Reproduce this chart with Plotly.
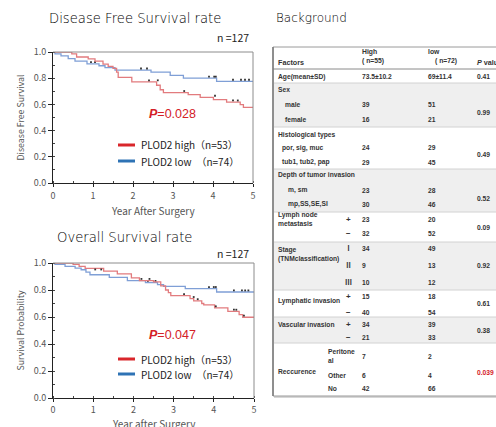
import plotly.graph_objects as go

W, H = 496, 427

# ---------------- Kaplan-Meier data ----------------
dfs_high_t = [0, 0.47, 0.59, 0.88, 1.05, 1.25, 1.38, 1.5, 1.59, 1.63, 1.97, 2.59, 2.68, 2.76, 3.38, 3.68, 4.01, 4.34, 4.68, 4.76, 5.0]
dfs_high_s = [1.0, 0.985, 0.962, 0.947, 0.93, 0.908, 0.89, 0.875, 0.847, 0.807, 0.772, 0.746, 0.712, 0.69, 0.674, 0.654, 0.636, 0.618, 0.598, 0.578, 0.578]
dfs_low_t = [0, 0.05, 0.2, 0.38, 0.55, 0.85, 1.15, 1.3, 1.55, 2.45, 2.93, 3.26, 4.09, 5.0]
dfs_low_s = [1.0, 0.985, 0.97, 0.95, 0.93, 0.91, 0.895, 0.88, 0.862, 0.847, 0.822, 0.80, 0.776, 0.776]
dfs_high_cens_t = [2.4, 2.62, 3.28, 4.05, 4.5, 4.62]
dfs_high_cens_s = [0.772, 0.772, 0.69, 0.654, 0.618, 0.618]
dfs_low_cens_t = [0.95, 1.05, 2.2, 2.35, 3.9, 4.03, 4.07, 4.5, 4.7, 4.8, 4.9]
dfs_low_cens_s = [0.91, 0.91, 0.862, 0.862, 0.80, 0.80, 0.80, 0.776, 0.776, 0.776, 0.776]

os_high_t = [0, 0.5, 0.65, 0.8, 1.26, 1.6, 1.95, 2.15, 2.5, 2.68, 2.8, 2.87, 2.93, 3.41, 3.5, 3.7, 3.75, 4.02, 4.35, 4.63, 4.72, 5.0]
os_high_s = [1.0, 0.99, 0.975, 0.96, 0.94, 0.92, 0.89, 0.87, 0.86, 0.83, 0.80, 0.78, 0.758, 0.736, 0.72, 0.70, 0.69, 0.667, 0.642, 0.617, 0.598, 0.598]
os_low_t = [0, 0.05, 0.3, 0.55, 0.7, 0.82, 0.92, 1.4, 1.85, 2.3, 2.6, 2.75, 3.29, 4.07, 5.0]
os_low_s = [1.0, 0.99, 0.975, 0.962, 0.95, 0.933, 0.913, 0.894, 0.869, 0.855, 0.84, 0.827, 0.81, 0.785, 0.785]
os_high_cens_t = [1.05, 1.2, 2.2, 2.4, 3.26, 3.5, 3.6, 4.05, 4.5, 4.56, 4.75]
os_high_cens_s = [0.94, 0.94, 0.87, 0.87, 0.758, 0.736, 0.72, 0.667, 0.642, 0.642, 0.598]
os_low_cens_t = [2.36, 2.55, 3.88, 4.0, 4.05, 4.5, 4.7, 4.78, 4.86]
os_low_cens_s = [0.855, 0.855, 0.81, 0.81, 0.81, 0.785, 0.785, 0.785, 0.785]

legend_labels = ["PLOD2 high（n=53）", "PLOD2 low　（n=74）"]
p_values_km = ["0.028", "0.047"]
titles_km = ["Disease Free Survival rate", "Overall Survival rate"]
ytitles_km = ["Disease Free Survival", "Survival Probability"]
xtitles_km = ["Year After Surgery", "Year after Surgery"]
n_total = "n =127"
table_title = "Background"

x_ticks = [0, 1, 2, 3, 4, 5]
y_ticks = [0.0, 0.2, 0.4, 0.6, 0.8, 1.0]
y_tick_labels = ["0.0", "0.2", "0.4", "0.6", "0.8", "1.0"]

# ---------------- Table data ----------------
tbl_header = ["Factors", "High<br>( n=55)", "low<br>　( n=72)", "<i>P</i> value"]
grp_names = ["Age(mean±SD)", "Sex", "Histological types", "Depth of tumor invasion",
             "Lymph node<br>metastasis", "Stage<br>(TNMclassification)",
             "Lymphatic invasion", "Vascular invasion", "Reccurence"]
grp_subs = [[""], ["male", "female"], ["por, sig, muc", "tub1, tub2, pap"], ["m, sm", "mp,SS,SE,SI"],
            ["+", "−"], ["Ⅰ", "Ⅱ", "Ⅲ"], ["+", "−"], ["+", "−"], ["Peritone<br>al", "Other", "No"]]
grp_high = [["73.5±10.2"], ["39", "16"], ["24", "29"], ["23", "30"], ["23", "32"],
            ["34", "9", "10"], ["15", "40"], ["34", "21"], ["7", "6", "42"]]
grp_low = [["69±11.4"], ["51", "21"], ["29", "45"], ["28", "46"], ["20", "52"],
           ["49", "13", "12"], ["18", "54"], ["39", "33"], ["2", "4", "66"]]
grp_p = ["0.41", "0.99", "0.49", "0.52", "0.09", "0.92", "0.61", "0.38", "0.039"]

# ---------------- layout constants (pixels) ----------------
RED_C = "#e27b7e"
BLUE_C = "#7f9fd6"
RED_L = "#d9262b"
BLUE_L = "#2e73b5"
CENS = "#333333"
TITLE_FONT = dict(family="DejaVu Sans", size=13.2, color="#000", weight=200)

def px(x):
    return x / W

def py(y):
    return 1 - y / H

fig = go.Figure()

panels = [
    dict(xa="x", ya="y",
         hi=(dfs_high_t, dfs_high_s, dfs_high_cens_t, dfs_high_cens_s),
         lo=(dfs_low_t, dfs_low_s, dfs_low_cens_t, dfs_low_cens_s),
         title_y=18, title_x=135, n_y=38, p_y=114, leg_y=(145, 161), xt_y=210),
    dict(xa="x2", ya="y2",
         hi=(os_high_t, os_high_s, os_high_cens_t, os_high_cens_s),
         lo=(os_low_t, os_low_s, os_low_cens_t, os_low_cens_s),
         title_y=238, title_x=124, n_y=253, p_y=335, leg_y=(359, 374), xt_y=423),
]

shapes = []
annotations = []
XT = dict(family="Noto Sans CJK JP", size=10, color="#555")
YT = dict(family="Noto Sans CJK JP", size=8.8, color="#555")

for i, pn in enumerate(panels):
    for (t, s, ct, cs), col in ((pn["lo"], BLUE_C), (pn["hi"], RED_C)):
        fig.add_trace(go.Scatter(x=t, y=s, mode="lines", line=dict(color=col, width=1.3, shape="hv"),
                                 xaxis=pn["xa"], yaxis=pn["ya"], showlegend=False, hoverinfo="skip"))
        fig.add_trace(go.Scatter(x=ct, y=[v + 0.012 for v in cs], mode="markers",
                                 marker=dict(color=CENS, size=1.8, symbol="square"),
                                 xaxis=pn["xa"], yaxis=pn["ya"], showlegend=False, hoverinfo="skip"))
    xd = "x domain" if pn["xa"] == "x" else "x2 domain"
    yd = "y domain" if pn["ya"] == "y" else "y2 domain"
    shapes.append(dict(type="line", xref=xd, yref=yd, x0=0, x1=1, y0=1, y1=1, line=dict(color="#8c8c8c", width=1)))
    shapes.append(dict(type="line", xref=xd, yref=yd, x0=1, x1=1, y0=0, y1=1, line=dict(color="#8c8c8c", width=1)))
    for ly, lc in zip(pn["leg_y"], (RED_L, BLUE_L)):
        shapes.append(dict(type="line", xref="paper", yref="paper", x0=px(118), x1=px(135), y0=py(ly), y1=py(ly),
                           line=dict(color=lc, width=3)))
    for ly, lab in zip(pn["leg_y"], legend_labels):
        annotations.append(dict(xref="paper", yref="paper", x=px(139), y=py(ly), text=lab, showarrow=False,
                                xanchor="left", yanchor="middle",
                                font=dict(family="Noto Sans CJK JP", size=10, color="#222")))
    annotations.append(dict(xref="paper", yref="paper", x=px(147), y=py(pn["p_y"]),
                            text="<b><i>P</i></b>=" + p_values_km[i], showarrow=False,
                            xanchor="left", yanchor="middle",
                            font=dict(family="Liberation Sans", size=12.5, color="#d42027")))
    annotations.append(dict(xref="paper", yref="paper", x=px(pn["title_x"]), y=py(pn["title_y"]),
                            text=titles_km[i], showarrow=False, xanchor="center", yanchor="middle",
                            font=TITLE_FONT))
    annotations.append(dict(xref="paper", yref="paper", x=px(251), y=py(pn["n_y"]),
                            text=n_total, showarrow=False, xanchor="right", yanchor="middle",
                            font=dict(family="Noto Sans CJK JP", size=10.5, color="#222")))
    annotations.append(dict(xref=xd, yref="paper", x=0.5, y=py(pn["xt_y"]),
                            text=xtitles_km[i], showarrow=False, xanchor="center", yanchor="middle", font=XT))

TICKF = dict(family="Noto Sans CJK JP", size=9, color="#555")
axis_common = dict(range=[0, 5], tickvals=x_ticks, showgrid=False, zeroline=False, showline=True, automargin=False,
                   linecolor="#222", linewidth=1, ticks="outside", ticklen=3, tickcolor="#222", tickfont=TICKF,
                   minor=dict(dtick=0.5, ticks="inside", ticklen=2, tickcolor="#444"))
yaxis_common = dict(range=[0, 1.0], tickvals=y_ticks, ticktext=y_tick_labels, showgrid=False, zeroline=False,
                    showline=True, automargin=False, linecolor="#222", linewidth=1, ticks="outside", ticklen=4,
                    tickcolor="#222", tickfont=TICKF,
                    minor=dict(dtick=0.1, ticks="inside", ticklen=2, tickcolor="#444"))

fig.update_layout(
    xaxis=dict(domain=[px(53), px(253)], anchor="y", ticklabelstandoff=1, **axis_common),
    yaxis=dict(domain=[py(183), py(52)], anchor="x", title=dict(text=ytitles_km[0], font=YT, standoff=7), **yaxis_common),
    xaxis2=dict(domain=[px(53), px(254)], anchor="y2", ticklabelstandoff=0, **axis_common),
    yaxis2=dict(domain=[py(398), py(263)], anchor="x2", title=dict(text=ytitles_km[1], font=YT, standoff=7), **yaxis_common),
)

# ---------------- Table drawing ----------------
T_LEFT, T_RIGHT, T_TOP, T_BOT = 273, 502, 47, 396
HEAD_BOT = 69
grp_bounds = [(69, 83), (83, 127), (127, 169), (169, 212), (212, 242), (242, 290), (290, 317), (317, 343), (343, 396)]
grp_label_y = [77, 89, 135, 175, 219, 254, 301, 324, 371]
grp_row_y = [[77], [104, 120], [148, 162], [190, 204], [219, 233], [248, 265, 282], [296, 312], [324, 337], [356, 375, 388]]
grp_p_y = [77, 112, 155, 198, 227, 265, 303, 330, 372]
grp_shaded = [False, True, False, True, False, True, False, True, False]
grp_titled = [False, True, True, True, False, False, False, False, False]
sub_indent = [0, 284, 281, 287, 0, 0, 0, 0, 0]

COL_LABEL, COL_SYM, COL_REC, COL_HIGH, COL_LOW, COL_P = 277, 348, 327, 361, 427, 476
TF_FAM, TF_SIZE = "Liberation Sans", 6.7

shapes.append(dict(type="rect", xref="paper", yref="paper", x0=px(T_LEFT + 1), x1=px(T_RIGHT + 1), y0=py(T_BOT + 2), y1=py(T_TOP + 1),
                   line=dict(width=0), fillcolor="#d6d6d6", layer="below"))
shapes.append(dict(type="rect", xref="paper", yref="paper", x0=px(T_LEFT), x1=px(T_RIGHT), y0=py(T_BOT), y1=py(T_TOP),
                   line=dict(color="#9a9a9a", width=1), fillcolor="white", layer="below"))
for k, (y0, y1) in enumerate(grp_bounds):
    if grp_shaded[k]:
        shapes.append(dict(type="rect", xref="paper", yref="paper", x0=px(T_LEFT + 1), x1=px(T_RIGHT), y0=py(y1), y1=py(y0),
                           line=dict(width=0), fillcolor="#efefef", layer="below"))
    if k > 0:
        shapes.append(dict(type="line", xref="paper", yref="paper", x0=px(T_LEFT), x1=px(T_RIGHT), y0=py(y0), y1=py(y0),
                           line=dict(color="#d2d2d2", width=1)))
shapes.append(dict(type="line", xref="paper", yref="paper", x0=px(T_LEFT), x1=px(T_RIGHT), y0=py(HEAD_BOT), y1=py(HEAD_BOT),
                   line=dict(color="#8a8a8a", width=1)))
shapes.append(dict(type="line", xref="paper", yref="paper", x0=px(T_LEFT), x1=px(T_LEFT), y0=py(T_BOT), y1=py(T_TOP),
                   line=dict(color="#7a7a7a", width=1.5)))

def tbl_text(x, y, text, color="#333", anchor="left", size=TF_SIZE, family=TF_FAM):
    annotations.append(dict(xref="paper", yref="paper", x=px(x), y=py(y), text="<b>" + text + "</b>", showarrow=False,
                            xanchor=anchor, yanchor="middle", align="left", borderpad=0,
                            font=dict(family=family, size=size, color=color)))

tbl_text(COL_LABEL, 63, tbl_header[0], size=7.2)
tbl_text(COL_HIGH, 56, tbl_header[1], size=6.8)
tbl_text(COL_LOW, 56, tbl_header[2], size=6.8)
tbl_text(COL_P, 63, tbl_header[3], size=7.2)

for k, name in enumerate(grp_names):
    tbl_text(COL_LABEL, grp_label_y[k], name)
    for j, sub in enumerate(grp_subs[k]):
        ry = grp_row_y[k][j]
        if sub:
            if grp_titled[k]:
                tbl_text(sub_indent[k], ry, sub)
            elif k == 8:
                tbl_text(COL_REC, ry, sub)
            elif k == 5:
                tbl_text(COL_SYM, ry, sub, anchor="center", family="Noto Sans CJK JP", size=7)
            else:
                tbl_text(COL_SYM, ry, sub, anchor="center", size=8)
        tbl_text(COL_HIGH, ry, grp_high[k][j])
        tbl_text(COL_LOW, ry, grp_low[k][j])
    tbl_text(COL_P, grp_p_y[k], grp_p[k], color="#d42027" if k == 8 else "#333")

annotations.append(dict(xref="paper", yref="paper", x=px(274), y=py(18), text=table_title, showarrow=False,
                        xanchor="left", yanchor="middle", font=dict(family="DejaVu Sans", size=12, color="#000", weight=200)))

fig.update_layout(width=W, height=H, margin=dict(l=0, r=0, t=0, b=0), paper_bgcolor="white", plot_bgcolor="white",
                  shapes=shapes, annotations=annotations, showlegend=False)

fig.write_html("out.html", config={"displayModeBar": False},
               post_script="document.body.style.margin='0px';document.body.style.overflow='hidden';")
